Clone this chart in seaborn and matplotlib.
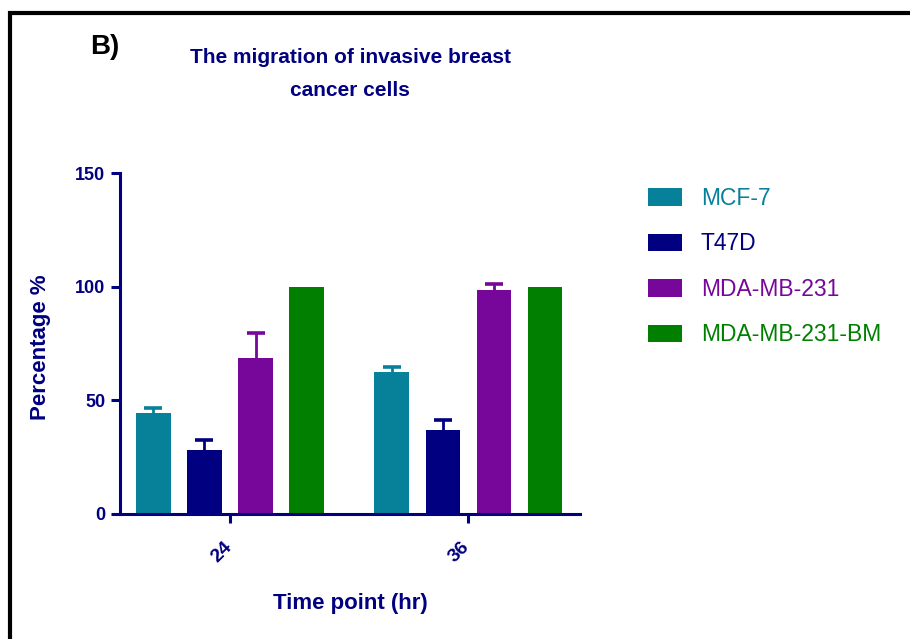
import matplotlib
matplotlib.use("Agg")
import matplotlib.pyplot as plt
import matplotlib.transforms as mtransforms
from matplotlib.lines import Line2D
import seaborn as sns
import pandas as pd

# Migration data (% of wound closure) per cell line and time point
time_points = ["24", "36"]
cell_lines = ["MCF-7", "T47D", "MDA-MB-231", "MDA-MB-231-BM"]
mcf7_mean = [44.5, 62.5]
mcf7_err = [2.0, 2.3]
t47d_mean = [28.2, 37.0]
t47d_err = [4.2, 4.4]
mda_mean = [68.5, 98.5]
mda_err = [11.0, 2.5]
bm_mean = [100.0, 100.0]
bm_err = [0.0, 0.0]

colors = ["#07809A", "#000080", "#76079A", "#007F00"]
navy = "#000080"

means = [mcf7_mean, t47d_mean, mda_mean, bm_mean]
errs = [mcf7_err, t47d_err, mda_err, bm_err]

rows = []
for line, m_list, e_list in zip(cell_lines, means, errs):
    for t, m, e in zip(time_points, m_list, e_list):
        rows.append({"time": t, "line": line, "pct": m, "err": e})
df = pd.DataFrame(rows)

sns.set_theme(style="white")
plt.rcParams["font.family"] = ["Liberation Sans", "DejaVu Sans"]

fig = plt.figure(figsize=(9.1, 6.39), dpi=100)
ax = fig.add_axes([120 / 910, 1 - 514 / 639, 460 / 910, 341 / 639])

sns.barplot(data=df, x="time", y="pct", hue="line", order=time_points,
            hue_order=cell_lines, palette=colors, width=0.857, gap=0.33,
            errorbar=None, linewidth=0, saturation=1, ax=ax)

# Upper-only error bars centred on each drawn bar
for container, line, col in zip(ax.containers, cell_lines, colors):
    sub = df[df["line"] == line].set_index("time").loc[time_points]
    for patch, m, e in zip(container.patches, sub["pct"], sub["err"]):
        if e <= 0:
            continue
        xc = patch.get_x() + patch.get_width() / 2
        _, caps, _ = ax.errorbar([xc], [m], yerr=[[0], [e]], fmt="none",
                                 ecolor=col, elinewidth=2.0, capsize=6.2,
                                 capthick=2.6, zorder=1)
        # keep only the cap at the top of the whisker
        for cap in caps:
            if abs(cap.get_ydata()[0] - m) < 1e-9:
                cap.set_visible(False)

ax.set_xlim(-0.462, 1.47)
ax.set_ylim(0, 150)
ax.set_yticks([0, 50, 100, 150])

for side in ["top", "right"]:
    ax.spines[side].set_visible(False)
for side in ["left", "bottom"]:
    ax.spines[side].set_color(navy)
    ax.spines[side].set_linewidth(2.2)

ax.tick_params(axis="both", direction="out", length=6.5, width=2.2,
               color=navy, labelcolor=navy, labelsize=13)
ax.tick_params(axis="y", pad=4, left=True)
ax.tick_params(axis="x", pad=11, bottom=True, labelsize=14)
for lab in ax.get_yticklabels():
    lab.set_fontweight("bold")
shift = mtransforms.ScaledTranslation(5 / 100, 0, fig.dpi_scale_trans)
for lab in ax.get_xticklabels():
    lab.set_fontweight("bold")
    lab.set_rotation(45)
    lab.set_ha("right")
    lab.set_va("top")
    lab.set_transform(lab.get_transform() + shift)

ax.set_xlabel("Time point (hr)", fontsize=16, fontweight="bold", color=navy)
ax.set_ylabel("Percentage %", fontsize=16, fontweight="bold", color=navy)
ax.xaxis.set_label_coords(0.5, -0.232)
ax.yaxis.set_label_coords(-0.15, 0.49)

handles, labels = ax.get_legend_handles_labels()
leg = ax.legend(handles, labels, loc="upper left",
                bbox_to_anchor=(648 / 910, 1 - 187 / 639),
                bbox_transform=fig.transFigure, frameon=False,
                fontsize=16.5, handlelength=1.5, handleheight=0.8,
                handletextpad=0.8, labelspacing=0.98, borderpad=0,
                borderaxespad=0)
for txt, col in zip(leg.get_texts(), colors):
    txt.set_color(col)

fig.text(350 / 910, 1 - 74 / 639,
         "The migration of invasive breast\ncancer cells",
         ha="center", va="center", fontsize=15, fontweight="bold",
         color=navy, linespacing=1.95)
fig.text(90 / 910, 1 - 47 / 639, "B)", ha="left", va="center",
         fontsize=20, fontweight="bold", color="black")

# Panel frame running off the right and bottom edges
frame = Line2D([10 / 910, 10 / 910, 1.02], [-0.02, 1 - 13 / 639, 1 - 13 / 639],
               transform=fig.transFigure, color="black", linewidth=3,
               solid_joinstyle="miter")
fig.add_artist(frame)

fig.savefig("out.png", dpi=100)
